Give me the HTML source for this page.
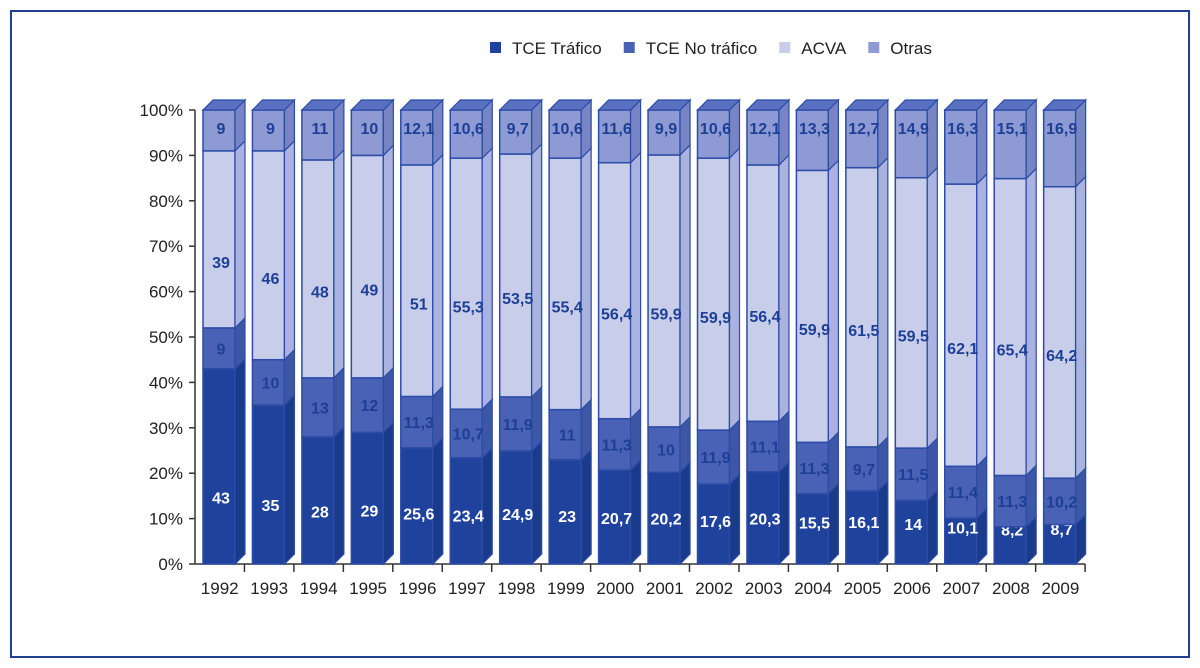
<!DOCTYPE html>
<html><head><meta charset="utf-8"><style>
body{margin:0;background:#fff;}
svg{display:block;font-family:"Liberation Sans",sans-serif;}
</style></head><body>
<svg id="c" width="1200" height="668">
<rect x="11" y="11" width="1178" height="646" fill="none" stroke="#1f3f8f" stroke-width="2"/>
<g id="legend"></g>
<g id="axis"></g>
<g id="bars"></g>
</svg>
<script>
const years=["1992","1993","1994","1995","1996","1997","1998","1999","2000","2001","2002","2003","2004","2005","2006","2007","2008","2009"];
const traf=[43,35,28,29,25.6,23.4,24.9,23,20.7,20.2,17.6,20.3,15.5,16.1,14,10.1,8.2,8.7];
const notraf=[9,10,13,12,11.3,10.7,11.9,11,11.3,10,11.9,11.1,11.3,9.7,11.5,11.4,11.3,10.2];
const acva=[39,46,48,49,51,55.3,53.5,55.4,56.4,59.9,59.9,56.4,59.9,61.5,59.5,62.1,65.4,64.2];
const otras=[9,9,11,10,12.1,10.6,9.7,10.6,11.6,9.9,10.6,12.1,13.3,12.7,14.9,16.3,15.1,16.9];
const ticks=["0%","10%","20%","30%","40%","50%","60%","70%","80%","90%","100%"];
const seriesNames=["TCE Tráfico","TCE No tráfico","ACVA","Otras"];
const NS="http://www.w3.org/2000/svg";
const x0=195,catW=49.45,y0=564,y100=110;
const Y=v=>y0-(y0-y100)*v/100;
const X=i=>x0+i*catW;
const cols=["#1f439c","#4a62b5","#c8cdea","#8e9ad3"];
const sides=["#1a3a8c","#3e56a6","#aab3e0","#7785c4"];
function el(t,a,p){const e=document.createElementNS(NS,t);for(const k in a)e.setAttribute(k,a[k]);(p||document.getElementById('c')).appendChild(e);return e;}
const ax=document.getElementById('axis'),bg=document.getElementById('bars'),lg=document.getElementById('legend');
// axis
el('line',{x1:x0,y1:y100,x2:x0,y2:y0,stroke:'#333','stroke-width':1.5},ax);
el('line',{x1:x0,y1:y0,x2:x0+18*catW,y2:y0,stroke:'#333','stroke-width':1.5},ax);
ticks.forEach((t,k)=>{const y=Y(k*10);
el('line',{x1:x0-6,y1:y,x2:x0,y2:y,stroke:'#333','stroke-width':1.5},ax);
const tx=el('text',{x:x0-12,y:y+6,'text-anchor':'end','font-size':17,fill:'#222'},ax);tx.textContent=t;

});
for(let i=1;i<=18;i++)el('line',{x1:X(i),y1:y0,x2:X(i),y2:y0+8,stroke:'#333','stroke-width':1.5},ax);
// legend
let lx=490;
seriesNames.forEach((n,k)=>{
const r=el('rect',{x:lx,y:42,width:11,height:11,fill:cols[k]},lg);


const t=el('text',{x:lx+22,y:54,'font-size':17,fill:'#222'},lg);t.textContent=n;


lx+=22+t.getComputedTextLength()+22;});
// bars
const data=[traf,notraf,acva,otras];
years.forEach((yr,i)=>{
const bx=X(i)+8,bw=32,d=10;
const tot=traf[i]+notraf[i]+acva[i]+otras[i];
let acc=0;
const g=el('g',{},bg);


data.forEach((s,k)=>{
const v=s[i]/tot*100;const ya=Y(acc),yb=Y(acc+v);
const r=el('rect',{x:bx,y:yb,width:bw,height:ya-yb,fill:cols[k],stroke:'#2c4ca8','stroke-width':1.5},g);


el('polygon',{points:`${bx+bw},${yb} ${bx+bw+d},${yb-d} ${bx+bw+d},${ya-d} ${bx+bw},${ya}`,fill:sides[k],stroke:'#2c4ca8','stroke-width':1.2},g);
let ly;
if(k==0)ly=Y(6+0.2*v);else if(k==1)ly=Y(acc+v/2);else if(k==2)ly=Y(acc+v/2-5);else ly=Y(96);
const t=el('text',{x:bx+bw/2+2,y:ly+6,'text-anchor':'middle','font-size':16,'font-weight':'bold',fill:k==0?'#fff':'#1d3f96'},g);
t.textContent=String(s[i]).replace('.',',');


acc+=v;});
el('polygon',{points:`${bx},${Y(100)} ${bx+d},${Y(100)-d} ${bx+bw+d},${Y(100)-d} ${bx+bw},${Y(100)}`,fill:'#5a70c0',stroke:'#2c4ca8','stroke-width':1.2},g);
const t=el('text',{x:X(i)+catW/2,y:y0+30,'text-anchor':'middle','font-size':17,fill:'#222'},ax);t.textContent=yr;


});
</script>
</body></html>
